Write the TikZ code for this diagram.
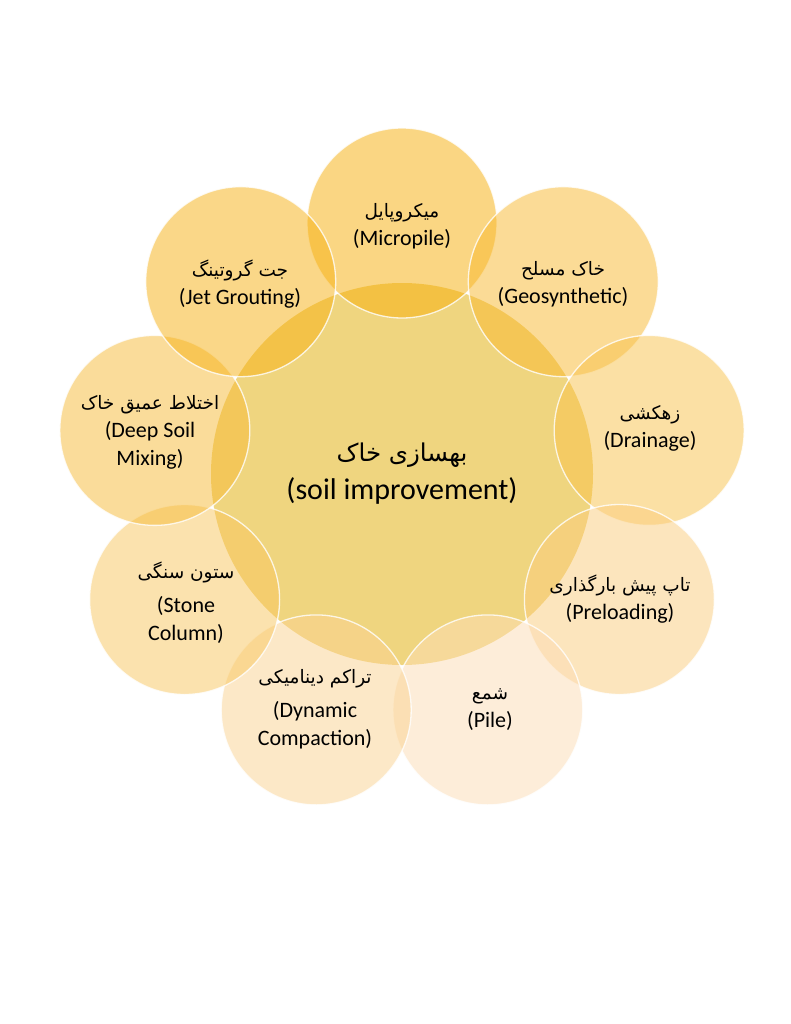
\documentclass[tikz,border=0pt]{standalone}
\usepackage{fontspec}
\setmainfont{Carlito}
\newfontfamily\fa[Script=Arabic]{DejaVu Sans}
\TeXXeTstate=1
\definecolor{hubc}{RGB}{225,173,1}
\definecolor{c0}{RGB}{247,175,9}
\definecolor{c1}{RGB}{249,185,47}
\definecolor{c2}{RGB}{249,195,75}
\definecolor{c3}{RGB}{251,205,125}
\definecolor{c4}{RGB}{253,221,181}
\definecolor{c5}{RGB}{251,211,145}
\definecolor{c6}{RGB}{249,199,95}
\definecolor{c7}{RGB}{247,187,55}
\definecolor{c8}{RGB}{247,177,19}
\tikzset{
  hub/.style={circle, minimum size=382pt, inner sep=0pt, fill=hubc, fill opacity=0.5},
  ring/.style={circle, minimum size=190pt, inner sep=0pt, draw=white, draw opacity=0.8, line width=1.3pt, fill opacity=0.5},
  lbl/.style={align=center, text=black, font=\fontsize{22}{28}\selectfont},
  big/.style={align=center, text=black, font=\fontsize{30}{38}\selectfont}
}
\newcommand{\fatext}[2][18.5]{{\fa\fontsize{#1}{28}\selectfont\beginR #2\endR}}
\begin{document}
\begin{tikzpicture}[x=1pt,y=-1pt]
\useasboundingbox (0,0) rectangle (791,1024);
\fill[white] (0,0) rectangle (791,1024);
\node[hub] (hub) at (402,474) {};
\node[ring, fill=c0] (k0) at (402,223) {};
\node[ring, fill=c1] (k1) at (563.3,281.7) {};
\node[ring, fill=c2] (k2) at (649.2,430.4) {};
\node[ring, fill=c3] (k3) at (619.4,599.5) {};
\node[ring, fill=c4] (k4) at (487.8,709.9) {};
\node[ring, fill=c5] (k5) at (316.2,709.9) {};
\node[ring, fill=c6] (k6) at (184.6,599.5) {};
\node[ring, fill=c7] (k7) at (154.8,430.4) {};
\node[ring, fill=c8] (k8) at (240.7,281.7) {};
\node[big] (tc) at (402,474) {\fatext[24.5]{بهسازی خاک}\\(soil improvement)};
\node[lbl] (t0) at (402,226) {\fatext{میکروپایل}\\(Micropile)};
\node[lbl] (t1) at (563,284) {\fatext{خاک مسلح}\\(Geosynthetic)};
\node[lbl] (t2) at (650,428) {\fatext{زهکشی}\\(Drainage)};
\node[lbl] (t3) at (620,599) {\fatext{تاپ پیش بارگذاری}\\(Preloading)};
\node[lbl] (t4) at (490,710) {\fatext{شمع}\\(Pile)};
\node[lbl] (t5) at (315,709) {\fatext{تراکم دینامیکی}\\[6pt](Dynamic\\Compaction)};
\node[lbl] (t6) at (186,603) {\fatext{ستون سنگی}\\[6pt](Stone\\Column)};
\node[lbl] (t7) at (150,432) {\fatext{اختلاط عمیق خاک}\\(Deep Soil\\Mixing)};
\node[lbl] (t8) at (240,284) {\fatext{جت گروتینگ}\\(Jet Grouting)};
\end{tikzpicture}
\end{document}
